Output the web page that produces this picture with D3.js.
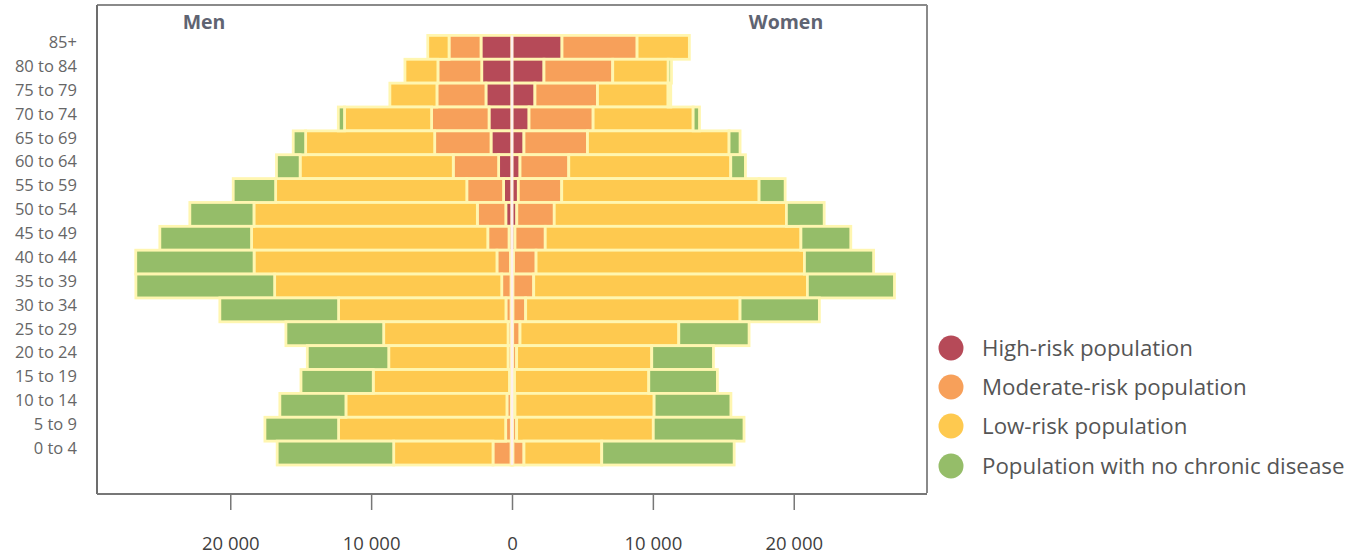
<!DOCTYPE html>
<html>
<head>
<meta charset="utf-8">
<script src="https://cdn.jsdelivr.net/npm/d3@7/dist/d3.min.js"></script>
<style>
  html, body { margin: 0; padding: 0; background: #fff; }
  svg { display: block; font-family: "Open Sans", "DejaVu Sans", sans-serif; }
</style>
</head>
<body>
<svg id="chart" width="1355" height="554"></svg>
<script>
const ages = ["85+","80 to 84","75 to 79","70 to 74","65 to 69","60 to 64","55 to 59","50 to 54","45 to 49","40 to 44","35 to 39","30 to 34","25 to 29","20 to 24","15 to 19","10 to 14","5 to 9","0 to 4"];

const menHigh     = [2200,2150,1850,1630,1490, 950, 600, 440, 210, 110,  70,  70,  50,  50,  50,  50,  50,  70];
const menModerate = [2270,3110,3480,4080,4000,3220,2610,2020,1510, 960, 660, 360, 230, 230, 130, 310, 400,1280];
const menLow      = [1510,2340,3340,6180,9160,10870,13570,15860,16770,17240,16120,11880,8830,8470,9670,11430,11860,7050];
const menNone     = [   0,   0,   0, 440, 880,1680,3010,4550,6510,8400,9850,8430,6940,5780,5130,4690,5230,8270];

const womenHigh     = [3550,2270,1630,1210, 850, 570, 450, 340, 210, 110,  70,  70,  50,  50,  50,  50,  50,  70];
const womenModerate = [5330,4880,4440,4550,4510,3460,3080,2660,2150,1600,1470, 900, 520, 280, 130, 160, 280, 780];
const womenLow      = [3710,3940,5010,7100,10050,11500,14010,16480,18150,19050,19430,15220,11270,9590,9530,9880,9700,5520];
const womenNone     = [   0, 230, 190, 450, 780,1040,1850,2680,3540,4910,6180,5630,4990,4380,4870,5450,6440,9400];

const seriesNames = ["High-risk population","Moderate-risk population","Low-risk population","Population with no chronic disease"];
const seriesKeys = ["high","moderate","low","none"];
const seriesColors = ["#b64a58","#f7a05a","#fec94f","#95bd69"];

const tickValues = [-20000,-10000,0,10000,20000];
const tickLabels = ["20 000","10 000","0","10 000","20 000"];

const svg = d3.select("#chart");

const x = d3.scaleLinear().domain([-29460, 29460]).range([97, 927]);
const y = d3.scaleBand().domain(ages).range([35.4, 465]).padding(0);

function rows(h, m, l, n) {
  return ages.map((a, i) => ({age: a, high: h[i], moderate: m[i], low: l[i], none: n[i]}));
}
const menData = rows(menHigh, menModerate, menLow, menNone);
const womenData = rows(womenHigh, womenModerate, womenLow, womenNone);

const stack = d3.stack().keys(seriesKeys);
const menStack = stack(menData);
const womenStack = stack(womenData);

const barsG = svg.append("g");

function drawSide(stacked, sign) {
  stacked.forEach((layer, k) => {
    barsG.append("g")
      .selectAll("rect")
      .data(layer.filter(d => d[1] - d[0] > 0))
      .join("rect")
      .attr("x", d => sign < 0 ? x(-d[1]) : x(d[0]))
      .attr("width", d => Math.abs(x(d[1]) - x(d[0])))
      .attr("y", d => y(d.data.age))
      .attr("height", y.bandwidth())
      .attr("fill", seriesColors[k])
      .attr("stroke", "#fff6b0")
      .attr("stroke-width", 2.8);
  });
}
drawSide(menStack, -1);
drawSide(womenStack, 1);

// centre line
svg.append("line")
  .attr("x1", x(0)).attr("x2", x(0))
  .attr("y1", y(ages[0])).attr("y2", y(ages[ages.length-1]) + y.bandwidth())
  .attr("stroke", "#fdf0ee").attr("stroke-width", 2.5);

// frame
svg.append("line").attr("x1", 97).attr("x2", 927).attr("y1", 5).attr("y2", 5)
  .attr("stroke", "#8a8a8a").attr("stroke-width", 2);
svg.append("line").attr("x1", 927).attr("x2", 927).attr("y1", 5).attr("y2", 493)
  .attr("stroke", "#8a8a8a").attr("stroke-width", 2);
svg.append("line").attr("x1", 97).attr("x2", 97).attr("y1", 5).attr("y2", 494)
  .attr("stroke", "#6d6d6d").attr("stroke-width", 2);

// x axis
const xAxis = d3.axisBottom(x)
  .tickValues(tickValues)
  .tickFormat((d, i) => tickLabels[i])
  .tickSize(16)
  .tickPadding(27);
const axG = svg.append("g").attr("transform", "translate(0,494)").call(xAxis);
axG.select(".domain").attr("stroke", "#777").attr("stroke-width", 2)
  .attr("d", `M${97},0H${927}`);
axG.selectAll(".tick line").attr("stroke", "#777").attr("stroke-width", 1.5);
axG.selectAll(".tick text")
  .attr("font-family", "'Open Sans', sans-serif")
  .attr("font-size", 18.5)
  .attr("fill", "#3f3f3f")
  .attr("dy", "0.71em");

// y labels
svg.append("g").selectAll("text")
  .data(ages)
  .join("text")
  .attr("x", 77)
  .attr("y", d => y(d) + y.bandwidth() / 2 - 5)
  .attr("dy", "0.35em")
  .attr("text-anchor", "end")
  .attr("font-size", 16.5)
  .attr("fill", "#666")
  .text(d => d);

// side titles
svg.append("text").attr("x", 204).attr("y", 22).attr("dy", "0.35em")
  .attr("text-anchor", "middle").attr("font-weight", "bold").attr("font-size", 19.5)
  .attr("fill", "#5f6472").text("Men");
svg.append("text").attr("x", 786).attr("y", 22).attr("dy", "0.35em")
  .attr("text-anchor", "middle").attr("font-weight", "bold").attr("font-size", 19.5)
  .attr("fill", "#5f6472").text("Women");

// legend
const legendY = [348, 387, 426, 466];
const lg = svg.append("g");
seriesNames.forEach((name, i) => {
  lg.append("circle").attr("cx", 951).attr("cy", legendY[i]).attr("r", 12.5)
    .attr("fill", seriesColors[i]);
  lg.append("text").attr("x", 982).attr("y", legendY[i]).attr("dy", "0.35em")
    .attr("font-size", 22.3).attr("fill", "#555").text(name);
});
</script>
</body>
</html>
